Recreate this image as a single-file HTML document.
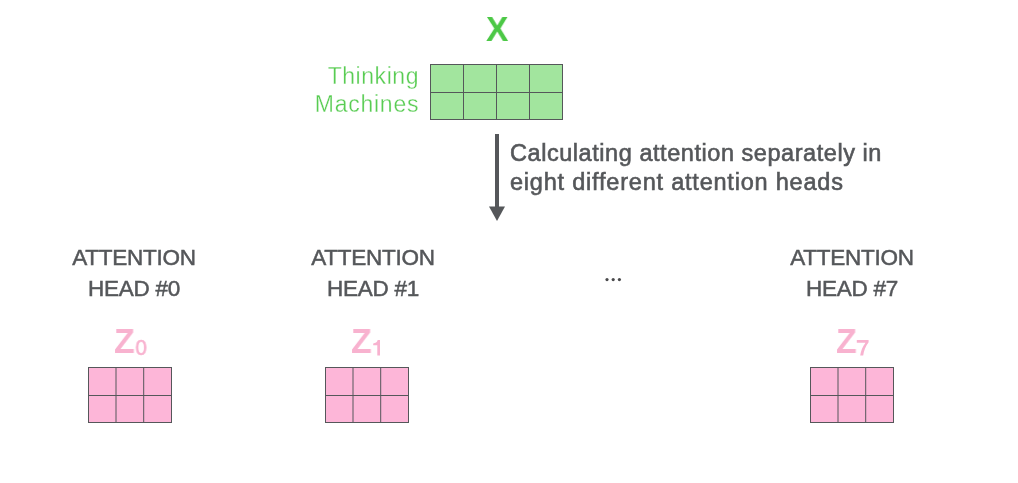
<!DOCTYPE html>
<html>
<head>
<meta charset="utf-8">
<title>Multi-headed attention</title>
<style>
html,body{margin:0;padding:0;background:#fff;}
body{width:1018px;height:483px;position:relative;overflow:hidden;font-family:"Liberation Sans",sans-serif;}
.t{position:absolute;white-space:nowrap;line-height:1;will-change:transform;}
.x{color:#4cc846;font-weight:bold;font-size:35px;transform:scaleX(0.96);transform-origin:0 0;}
.tm{color:#58cc52;font-size:23px;text-align:right;letter-spacing:0.55px;-webkit-text-stroke:0.3px #fff;}
.cap{color:#55575a;font-size:23.5px;-webkit-text-stroke:0.6px #55575a;}
.lab{color:#55575a;font-size:22.5px;text-align:center;letter-spacing:-0.25px;-webkit-text-stroke:0.5px #55575a;}
.z{color:#f8b2cf;font-weight:bold;font-size:35px;transform:scaleX(0.97);transform-origin:0 0;}
.zs{color:#f8b2cf;font-size:22px;-webkit-text-stroke:0.65px #f8b2cf;transform:scaleX(0.93);}
svg{position:absolute;left:0;top:0;}
</style>
</head>
<body>
<svg width="1018" height="483" viewBox="0 0 1018 483">
  <!-- green grid -->
  <g fill="#a2e59e" stroke="#55575a" stroke-width="1">
    <rect x="430.5" y="64.5" width="132" height="55"/>
  </g>
  <g stroke="#55575a" stroke-width="1" fill="none">
    <path d="M463.5 64.5V119.5M496.5 64.5V119.5M529.5 64.5V119.5M430.5 92.5H562.5"/>
  </g>
  <!-- arrow -->
  <rect x="495" y="134" width="4" height="74" fill="#55575a"/>
  <path d="M489 206.5H505L497 221Z" fill="#55575a"/>
  <!-- pink grids -->
  <g fill="#fdb6d8" stroke="#55575a" stroke-width="1">
    <rect x="88.5" y="367.5" width="83" height="55"/>
    <rect x="325.5" y="367.5" width="83" height="55"/>
    <rect x="810.5" y="367.5" width="83" height="55"/>
  </g>
  <g stroke="#55575a" stroke-width="1" fill="none">
    <path d="M116 367.5V422.5M143.7 367.5V422.5M88.5 395.5H171.5"/>
    <path d="M353 367.5V422.5M380.7 367.5V422.5M325.5 395.5H408.5"/>
    <path d="M838 367.5V422.5M865.7 367.5V422.5M810.5 395.5H893.5"/>
  </g>
  <!-- subscript 1 (Helvetica-style, no foot) -->
  <path d="M377.3 340.1H380V355.6H377.3V345.3H373.2V343.4C375.6 343.3 377.1 342.3 377.7 340.1Z" fill="#f8b2cf"/>
  <!-- subscript 7 -->
  <path d="M856.8 340.1H868.6V342.2C865.7 346 863.8 350.5 863.2 355.6H860.2C860.8 350.8 862.6 346.5 865.5 342.7H856.8Z" fill="#f8b2cf"/>
  <!-- ellipsis -->
  <g fill="#4a4a4c">
    <circle cx="607" cy="279.6" r="1.6"/>
    <circle cx="613.2" cy="279.6" r="1.6"/>
    <circle cx="619.4" cy="279.6" r="1.6"/>
  </g>
</svg>

<div class="t x" id="x" style="left:486px;top:10.7px;">X</div>

<div class="t tm" id="tm1" style="left:300px;width:119px;top:64.5px;">Thinking</div>
<div class="t tm" id="tm2" style="left:300px;width:119.2px;top:93px;letter-spacing:0.75px;">Machines</div>

<div class="t cap" id="c1" style="left:509.5px;top:142px;letter-spacing:0.55px;">Calculating attention separately in</div>
<div class="t cap" id="c2" style="left:509.5px;top:171.1px;letter-spacing:0.79px;">eight different attention heads</div>

<div class="t lab" id="a0" style="margin-top:0.6px;left:34px;width:200px;top:246px;">ATTENTION</div>
<div class="t lab" id="h0" style="margin-top:0.6px;left:34px;width:200px;top:277px;">HEAD #0</div>
<div class="t lab" id="a1" style="margin-top:0.6px;left:272.5px;width:200px;top:246px;">ATTENTION</div>
<div class="t lab" id="h1" style="margin-top:0.6px;left:272.5px;width:200px;top:277px;">HEAD #1</div>
<div class="t lab" id="a7" style="margin-top:0.6px;left:751.7px;width:200px;top:246px;">ATTENTION</div>
<div class="t lab" id="h7" style="margin-top:0.6px;left:751.7px;width:200px;top:277px;">HEAD #7</div>

<div class="t z" id="z0" style="left:114px;top:323.2px;">Z</div><div class="t zs" id="s0" style="left:135px;top:336.9px;">0</div>
<div class="t z" id="z1" style="left:351.3px;top:323.2px;">Z</div>
<div class="t z" id="z7" style="left:836.3px;top:323.2px;">Z</div>
</body>
</html>
